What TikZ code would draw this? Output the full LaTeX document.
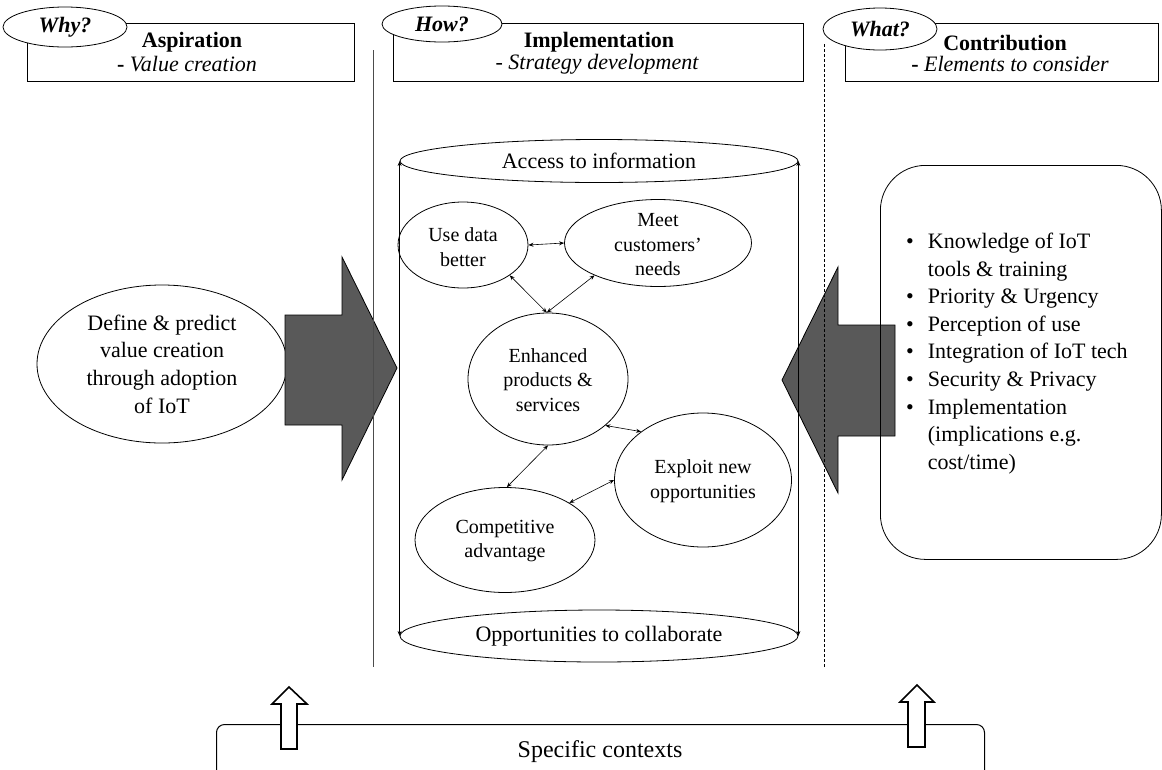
\documentclass[tikz,border=0pt]{standalone}
\usepackage{fontspec}
\setmainfont{Liberation Serif}
\usetikzlibrary{shapes.geometric,arrows.meta}
\tikzset{
  hbox/.style={draw, line width=0.8pt, inner sep=0pt, anchor=north west},
  qell/.style={draw, ellipse, fill=white, inner sep=0pt, line width=0.8pt, font=\fontsize{22}{26}\selectfont\bfseries\itshape},
  htitle/.style={inner sep=0pt, font=\fontsize{22}{26}\selectfont\bfseries},
  hsub/.style={inner sep=0pt, font=\fontsize{22}{26}\selectfont\itshape},
  ell/.style={draw, ellipse, inner sep=0pt, line width=0.8pt},
  itxt/.style={align=center, inner sep=0pt, font=\fontsize{20}{24.5}\selectfont},
  btxt/.style={align=center, inner sep=0pt, font=\fontsize{22}{27.7}\selectfont},
  link/.style={{Stealth[length=5pt,width=4pt]}-{Stealth[length=5pt,width=4pt]}, line width=0.6pt},
  bigarrow/.style={draw, line width=0.8pt, fill=black!65},
  hollow/.style={draw, line width=1.6pt, fill=white},
  divider/.style={line width=0.9pt, black!70},
}
\begin{document}
\begin{tikzpicture}[x=1pt,y=-1pt]
\useasboundingbox (0,0) rectangle (1162,769);

% header boxes
\node[hbox, minimum width=327, minimum height=58] (hb1) at (27,23) {};
\node[hbox, minimum width=410, minimum height=58] (hb2) at (393,23) {};
\node[hbox, minimum width=313, minimum height=58] (hb3) at (845,23) {};
\node[qell, minimum width=124, minimum height=40] (why) at (65,27) {Why?};
\node[qell, minimum width=120, minimum height=36] (how) at (442,24) {How?};
\node[qell, minimum width=114, minimum height=42] (what) at (880,29) {What?};
\node[htitle] (asp) at (192,42) {Aspiration};
\node[hsub] (vc) at (187,64) {\textbf{\upshape -} Value creation};
\node[htitle] (impl) at (599,42) {Implementation};
\node[hsub] (sd) at (597,64) {- Strategy development};
\node[htitle] (contr) at (1005,43) {Contribution};
\node[hsub] (ec) at (1010,64) {\textbf{\upshape -} Elements to consider};

% left ellipse and big arrows
\node[ell, minimum width=250, minimum height=158] (def) at (162,364) {};
\node[btxt] (deft) at (def) {Define \& predict\\value creation\\through adoption\\of IoT};
\draw[bigarrow] (285,315) -- (342,315) -- (342,257) -- (397,368) -- (342,480) -- (342,425) -- (285,425) -- cycle;
\draw[bigarrow] (895,325) -- (838,325) -- (838,267) -- (782,380) -- (838,493) -- (838,436) -- (895,436) -- cycle;

% dividers
\draw[divider] (373,50) -- (373,667);
\draw[line width=0.7pt, dash pattern=on 3pt off 2pt] (824,44) -- (824,668);

% cylinder
\node[ell, minimum width=398, minimum height=43, font=\fontsize{22}{26}\selectfont] (top) at (599,161) {Access to information};
\node[ell, minimum width=398, minimum height=52, font=\fontsize{22}{26}\selectfont] (bot) at (599,636) {Opportunities to collaborate};
\draw[link] (top.west) -- (bot.west);
\draw[link] (top.east) -- (bot.east);

% inner ellipses
\node[ell, minimum width=130, minimum height=86] (use) at (463,245) {};
\node[itxt] (uset) at (463,247) {Use data\\better};
\node[ell, minimum width=187, minimum height=87] (meet) at (658,243) {};
\node[itxt] (meett) at (658,245) {Meet\\customers’\\needs};
\node[ell, minimum width=160, minimum height=132] (enh) at (548,379) {};
\node[itxt] (enht) at (548,380) {Enhanced\\products \&\\services};
\node[ell, minimum width=177, minimum height=134] (expl) at (703,480) {};
\node[itxt] (explt) at (703,481) {Exploit new\\opportunities};
\node[ell, minimum width=180, minimum height=105] (comp) at (505,540) {};
\node[itxt] (compt) at (505,541) {Competitive\\advantage};

\draw[link] (use.east) -- (meet.west);
\draw[link] (use.-33) -- (enh.91);
\draw[link] (meet.-153) -- (enh.91);
\draw[link] (enh.-39) -- (expl.142);
\draw[link] (enh.-90) -- (comp.88);
\draw[link] (comp.30) -- (expl.180);

% right box
\node[draw, line width=0.8pt, rounded corners=45pt, anchor=north west, minimum width=281, minimum height=394] (cbox) at (880,165) {};
\node[anchor=north west, inner sep=0pt, font=\fontsize{22}{27.6}\selectfont] (list) at (906,229) {%
\begin{tabular}{@{}l@{\hspace{14pt}}l@{}}
• & Knowledge of IoT\\
  & tools \& training\\
• & Priority \& Urgency\\
• & Perception of use\\
• & Integration of IoT tech\\
• & Security \& Privacy\\
• & Implementation\\
  & (implications e.g.\\
  & cost/time)
\end{tabular}};

% bottom box
\node[draw, line width=1pt, rounded corners=8pt, anchor=north west, minimum width=768, minimum height=100] (ctx) at (216,724) {};
\node[inner sep=0pt, font=\fontsize{24}{28}\selectfont] (ctxt) at (600,752) {Specific contexts};
\draw[hollow] (281,749) -- (281,704) -- (272,704) -- (289,687) -- (307,704) -- (297,704) -- (297,749) -- cycle;
\draw[hollow] (908,747) -- (908,702) -- (900,702) -- (917,685) -- (934,702) -- (925,702) -- (925,747) -- cycle;
\end{tikzpicture}
\end{document}
